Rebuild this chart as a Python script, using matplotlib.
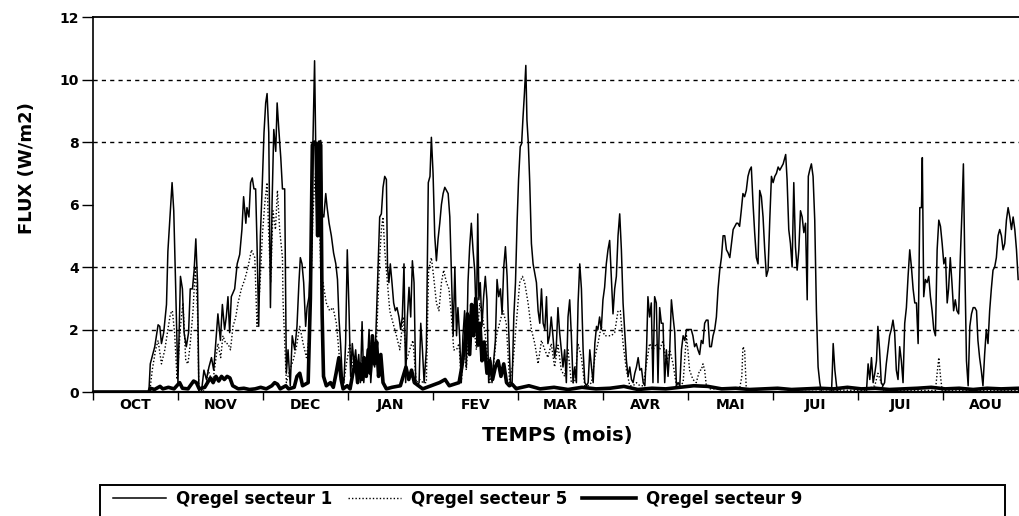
import numpy as np
import matplotlib
matplotlib.use("Agg")
import matplotlib.pyplot as plt
from matplotlib.patches import Rectangle

plt.rcParams['font.family'] = ['DejaVu Sans']

months = ['OCT', 'NOV', 'DEC', 'JAN', 'FEV', 'MAR', 'AVR', 'MAI', 'JUI', 'JUI', 'AOU']
month_len = 365 / 12
y_ticks = [0, 2, 4, 6, 8, 10, 12]
grid_levels = [2, 4, 8, 10]
labels = ['Qregel secteur 1', 'Qregel secteur 5', 'Qregel secteur 9']

# secteur 1 (thin solid) - day index from 1 Oct, flux W/m2
s1_days = [0, 20.0, 20.5, 22.1, 23.3, 23.9, 24.5, 25.3, 26.3, 26.8, 27.7, 28.3, 28.9, 29.6, 30.4,
           31.3, 32.0, 32.6, 33.4, 34.2, 34.8, 35.6, 36.2, 36.8, 37.4, 37.9, 38.8, 39.7, 40.6,
           41.5, 42.4, 43.2, 44.2, 44.7, 45.6, 46.3, 47.1, 47.7, 48.3, 48.9, 49.5, 50.7, 51.6,
           52.5, 53.3, 53.9, 54.7, 55.1, 55.8, 56.4, 57.0, 57.6, 58.2, 58.7, 59.3, 59.9, 60.6,
           61.2, 61.8, 62.3, 62.9, 63.5, 64.1, 64.7, 65.4, 65.9, 66.5, 67.2, 67.8,
           68.6, 69.2, 69.8, 70.6, 71.3, 72.2, 73.0, 73.7, 74.2, 74.8, 75.4, 76.1, 76.6, 77.3,
           78.1, 78.7, 79.3, 79.7, 80.3, 80.9, 81.5, 82.0, 82.6, 83.3, 83.8, 84.5, 85.3, 86.1,
           86.9, 87.5, 88.0, 88.6, 89.2, 89.8, 90.4, 91.0, 91.6, 92.2, 92.8, 93.4, 94.0, 94.5,
           95.1, 95.7, 96.3, 96.9, 97.5, 98.1, 98.8, 99.4, 100.0, 100.8, 101.4, 102.0, 102.6,
           103.2, 103.8, 104.4, 105.0, 105.4, 105.9, 106.4, 107.0, 107.6, 108.2, 108.8, 109.5,
           110.1, 110.7, 111.3, 111.9, 112.5, 113.1, 113.7, 114.3, 114.9, 115.5, 116.1, 116.7,
           117.3, 117.9, 118.5, 119.3, 120.0, 120.6, 121.1, 121.7, 122.3, 122.9, 123.5, 124.1,
           124.7, 125.3, 125.9, 126.5, 127.1, 127.7, 128.3, 128.9, 129.5, 130.1, 130.6, 131.2,
           131.8, 132.4, 133.0, 133.6, 134.2, 134.8, 135.4, 136.0,
           136.6, 137.2, 137.7, 138.1, 138.6, 139.2, 139.8, 140.4, 141.0, 141.6, 142.2, 142.8,
           143.4, 144.0, 144.6, 145.2, 145.8, 146.4, 147.0, 147.6, 148.2, 148.8, 149.4, 150.0,
           150.6, 151.2, 151.8, 152.3, 152.9, 153.4, 153.9, 154.4, 154.9, 155.3, 155.8, 156.3,
           156.9, 157.5, 158.1, 158.7, 159.3, 159.9, 160.5, 161.1, 161.7, 162.3, 162.8, 163.4,
           164.0, 164.6, 165.2, 165.8, 166.4, 167.0, 167.6, 168.2, 168.8, 169.4, 170.0, 170.6,
           171.2, 171.8, 172.4, 173.0, 173.6, 174.2, 174.8, 175.4, 176.0, 176.6, 177.2, 177.8,
           178.4, 179.0, 179.6, 180.2, 180.7, 181.3, 181.9, 182.5, 183.1, 183.7, 184.3, 184.9,
           185.5, 186.1, 186.7, 187.3, 187.9, 188.5, 189.1, 189.7, 190.3, 190.9, 191.5, 192.1,
           192.7, 193.3, 193.9, 194.5, 195.1, 195.7, 196.3, 196.9, 197.5, 198.1, 198.6, 199.2,
           199.8, 200.4, 201.0, 201.6, 202.2, 202.8, 203.4,
           204.0, 204.6, 205.2, 205.8, 206.4, 207.0, 207.6, 208.2, 208.8, 209.4, 210.0, 210.6,
           211.2, 211.8, 212.4, 213.5, 214.1, 214.7, 215.3, 215.9, 216.5, 217.1, 217.7, 218.3,
           218.9, 219.5, 220.1, 220.7, 221.3, 221.9, 222.5, 223.1, 223.7, 224.3, 224.9, 225.5,
           226.1, 226.7, 227.3, 227.9, 228.5, 229.1, 229.7, 230.3, 230.8, 231.4, 232.0, 232.6,
           233.2, 233.8, 234.4, 235.0, 235.6, 236.2, 236.8, 237.4, 238.0, 238.6, 239.2, 239.8,
           240.4, 241.0, 241.6, 242.2, 242.8, 243.4, 244.0, 244.6, 245.2, 245.8, 246.4, 247.0,
           247.6, 247.9, 248.4, 249.0, 249.6, 250.2, 250.8, 251.4, 252.0, 252.6, 253.2, 253.8,
           254.4, 255.0, 255.6, 256.0, 256.5, 257.1, 257.7, 258.3, 258.9, 259.5, 260.1, 260.7,
           264.3, 264.6, 264.9, 265.5, 266.1, 266.6,
           276.8, 277.4, 278.0, 278.6, 279.2, 279.8, 280.4, 280.9, 281.5, 282.1, 282.7, 283.3,
           283.9, 284.5, 285.1, 285.7, 286.3, 286.9, 287.5, 288.1, 288.7, 289.3, 289.9, 290.5,
           291.1, 291.7, 292.3, 292.9, 293.5, 294.1, 294.7, 295.3, 295.9, 296.5, 296.8, 297.3,
           297.9, 298.5, 299.1, 299.7, 300.3, 300.9, 301.5, 302.1, 302.7, 303.3, 303.9, 304.5,
           305.1, 305.7, 306.2, 306.8, 307.4, 308.0, 308.6, 309.2, 309.8, 310.4, 311.0, 311.5,
           312.0, 312.6, 313.2, 313.8, 314.4, 315.0, 315.6, 316.2, 316.7, 317.3, 317.9, 318.5,
           319.1, 319.7, 320.3, 320.9, 321.5, 322.1, 322.7, 323.3, 323.9, 324.5, 325.1, 325.7,
           326.3, 326.9, 327.5, 328.1, 328.7, 329.3, 329.9, 330.5, 331.1]
s1_vals = [0, 0, 0.9, 1.45, 2.15, 2.1, 1.55, 1.9, 2.8, 4.5, 5.8, 6.7, 5.8, 3.3, 0.3,
           3.7, 3.3, 1.9, 1.45, 1.9, 3.3, 3.3, 3.9, 4.9, 3.5, 0.0, 0.0, 0.7, 0.4,
           0.8, 1.1, 0.7, 1.9, 2.5, 1.65, 2.8, 2.0, 2.4, 3.05, 1.9, 3.05, 3.3, 4.1,
           4.4, 5.2, 6.25, 5.4, 5.9, 5.6, 6.7, 6.85, 6.5, 6.5, 4.75, 2.1, 5.0, 6.7,
           8.3, 9.25, 9.55, 8.3, 2.7, 6.1, 8.4, 7.7, 9.25, 8.4, 7.5, 6.5,
           6.5, 0.6, 1.35, 0.2, 1.8, 1.35, 2.1, 3.5, 4.3, 4.1, 3.5, 2.1, 2.7, 3.05,
           4.55, 7.95, 10.6, 7.95, 7.95, 6.8, 8.05, 5.7, 5.6, 6.35, 5.9, 5.4, 5.0, 4.45,
           4.1, 3.6, 2.4, 1.55, 0.5, 0.3, 1.55, 4.55, 2.7, 0.5, 1.55, 0.9, 1.35, 0.7,
           1.2, 0.3, 2.25, 0.3, 1.0, 0.7, 2.0, 0.3, 1.1, 0.8, 2.3, 4.0, 5.6,
           5.7, 6.55, 6.9, 6.8, 4.0, 3.5, 4.1, 3.5, 2.85, 2.6, 2.7, 2.4,
           2.0, 2.4, 4.1, 0.3, 2.4, 3.35, 2.4, 4.2, 3.5, 0.3, 0.2, 0.3,
           2.2, 1.35, 0.3, 1.35, 6.7, 6.9, 8.15, 7.0, 5.0, 4.2, 4.9, 5.4,
           6.0, 6.35, 6.55, 6.45, 6.35, 5.6, 3.7, 1.8, 4.0, 1.8, 2.7, 1.8,
           0.3, 1.8, 2.6, 0.8, 3.5, 4.65, 5.4, 4.55,
           3.9, 2.2, 5.7, 2.95, 3.5, 2.1, 3.05, 3.7, 2.95, 0.3, 1.1, 0.3,
           1.0, 1.65, 3.6, 3.05, 3.3, 2.5, 4.0, 4.65, 3.7, 1.9, 0.3, 0.3,
           2.4, 3.5, 5.5, 6.8, 7.85, 7.95, 8.8, 9.55, 10.45, 8.7, 7.95, 6.7,
           4.75, 4.1, 3.8, 3.5, 2.6, 2.2, 3.3, 2.2, 2.0, 3.05, 1.55, 1.8,
           2.4, 1.8, 1.1, 1.45, 2.7, 1.9, 1.35, 0.8, 1.35, 0.3, 2.4, 2.95,
           1.8, 0.3, 0.8, 0.3, 2.85, 4.1, 3.3, 1.35, 0.3, 0.2, 0.3, 1.35,
           0.8, 0.3, 1.55, 2.1, 2.0, 2.4, 2.0, 2.95, 3.35, 4.1, 4.55, 4.85,
           3.7, 2.5, 3.3, 3.7, 5.0, 5.7, 4.55, 2.85, 1.9, 1.0, 0.5, 0.8,
           0.4, 0.3, 0.6, 0.8, 1.1, 0.7, 0.75, 0.3, 0.2, 1.35, 3.05, 2.4,
           2.85, 0.3, 3.05, 2.85, 0.3, 2.7, 2.2,
           2.2, 0.3, 1.35, 0.5, 1.35, 2.95, 2.4, 1.9, 0.2, 0.3, 0.2, 1.35,
           1.8, 1.65, 2.0, 2.0, 2.0, 1.8, 1.45, 1.55, 1.35, 1.2, 1.65, 1.55,
           2.2, 2.3, 2.3, 1.45, 1.45, 1.8, 2.0, 2.4, 3.3, 3.9, 4.3, 5.0,
           5.0, 4.55, 4.45, 4.3, 4.75, 5.2, 5.3, 5.4, 5.4, 5.3, 5.8, 6.35,
           6.25, 6.45, 6.9, 7.1, 7.2, 6.05, 5.1, 4.3, 4.1, 6.45, 6.25, 5.6,
           4.55, 3.7, 3.9, 5.5, 6.9, 6.7, 6.9, 7.0, 7.2, 7.1, 7.2, 7.3,
           7.5, 7.6, 6.8, 5.2, 4.75, 4.0, 6.7, 4.65, 3.9, 4.55, 5.8, 5.6,
           5.1, 5.4, 2.95, 6.9, 7.1, 7.3, 6.9, 5.5, 2.6, 0.8, 0.3, 0.0,
           0.0, 0.7, 1.55, 0.7, 0.2, 0.0,
           0.0, 0.9, 0.4, 1.1, 0.3, 0.6, 1.0, 2.1, 1.35, 0.3, 0.2, 0.3,
           0.9, 1.35, 1.8, 2.0, 2.3, 1.9, 0.7, 0.4, 1.45, 1.0, 0.3, 2.2,
           2.7, 3.7, 4.55, 4.0, 3.3, 2.85, 2.85, 1.55, 5.9, 5.9, 7.5, 3.05,
           3.6, 3.5, 3.7, 3.05, 2.6, 2.0, 1.8, 4.55, 5.5, 5.3, 4.75, 4.1,
           4.3, 2.85, 3.3, 4.3, 3.5, 2.6, 2.95, 2.6, 2.5, 4.3, 5.8, 7.3,
           4.1, 1.0, 0.2, 2.1, 2.5, 2.7, 2.7, 2.6, 1.65, 1.1, 0.7, 0.2,
           1.2, 2.0, 1.55, 2.6, 3.3, 3.9, 4.0, 4.3, 5.0, 5.2, 5.0, 4.55,
           4.75, 5.5, 5.9, 5.6, 5.2, 5.6, 5.2, 4.55, 3.6]

# secteur 5 (dotted)
s5_days = [0, 20.3, 21.2, 22.4, 23.3, 24.5, 25.7, 26.8, 27.7, 28.4, 29.2, 30.1, 31.3, 32.2,
           33.2, 34.0, 34.8, 35.8, 36.6, 37.4, 37.9, 39.4, 40.6, 41.2, 42.0, 43.0, 43.9, 44.7,
           45.7, 46.5, 47.5, 48.3, 49.2, 50.1, 51.1, 51.9, 53.1, 54.3, 55.5, 56.7, 57.9, 58.7,
           59.7, 60.6, 61.5, 62.3, 62.9, 63.6, 64.4, 65.3, 66.0, 66.8, 67.8,
           68.0, 69.2, 70.4, 71.6, 72.8, 74.0, 75.2, 76.4, 77.5, 78.7, 79.3, 79.9, 80.5, 81.1,
           81.7, 82.3, 83.5, 84.7, 85.9, 87.1, 88.3, 89.5, 90.7, 91.9, 93.1, 94.3, 95.4, 96.6,
           97.8, 99.0, 100.2, 101.4, 102.6, 103.2, 103.8, 104.4, 105.2, 106.2, 107.4, 108.6,
           109.8, 111.0, 112.2, 113.3, 114.5, 115.7, 116.9, 118.1, 119.3, 120.1, 121.1, 121.9,
           122.9, 123.8, 124.7, 125.5, 126.5, 127.4, 128.3, 129.1, 130.1, 131.0, 131.8, 132.7,
           133.6, 134.6, 135.4, 136.0,
           137.2, 138.4, 139.6, 140.8, 142.0, 143.2, 144.4, 145.5, 146.7, 147.9, 149.1, 150.3,
           151.5, 152.7, 153.7, 154.5, 155.7, 156.9, 158.1, 159.3, 160.5, 161.7, 162.8, 164.0,
           165.2, 166.4, 167.6, 168.8, 170.0, 171.2, 172.4, 173.6, 174.8, 176.0, 177.2, 178.4,
           179.6, 180.7, 181.9, 183.1, 184.3, 185.5, 186.7, 187.9, 188.7, 189.7, 190.9, 192.1,
           193.3, 194.5, 195.7, 196.9, 198.1, 199.2, 200.4, 201.6, 202.8, 204.0,
           205.2, 206.4, 207.6, 208.8, 210.0, 211.2, 211.8, 212.4, 212.9, 213.5, 214.7, 215.9,
           217.1, 217.7, 218.3, 218.9, 219.5, 220.7, 231.4, 232.2, 232.6, 233.2, 233.8,
           276.0, 279.8, 280.9, 282.1, 283.0, 301.5, 302.1, 302.7, 303.3, 303.9, 331.4]
s5_vals = [0, 0, 0.7, 1.35, 1.65, 0.9, 1.35, 2.0, 2.5, 2.6, 1.9, 0.4, 2.1, 2.85,
           1.0, 0.9, 1.55, 2.6, 4.0, 2.6, 0, 0, 0.3, 0.7, 0.5, 0.4, 1.0, 1.55,
           1.1, 1.8, 1.55, 1.55, 1.35, 2.1, 2.4, 2.85, 3.3, 3.6, 4.0, 4.55, 4.3, 2.1,
           3.3, 5.0, 6.05, 6.7, 5.0, 3.5, 5.8, 5.2, 6.45, 5.2, 4.3,
           2.95, 0.3, 0.7, 1.0, 1.45, 2.1, 1.55, 1.1, 1.9, 5.6, 6.7, 7.2, 5.1, 5.2,
           3.3, 3.5, 2.85, 2.6, 2.7, 2.2, 1.0, 0.15, 0.9, 1.55, 0.7, 0.8, 0.5, 1.1,
           0.7, 1.65, 0.9, 1.55, 4.3, 5.2, 5.6, 4.55, 3.7, 2.6, 2.2, 1.8,
           1.35, 2.4, 1.0, 1.35, 1.65, 0.3, 0.4, 0.3, 0.3, 3.9, 4.3, 3.7,
           2.85, 2.6, 3.5, 3.9, 3.5, 3.3, 2.4, 1.35, 1.35, 1.55, 0.3, 1.35,
           0.7, 2.2, 2.85, 2.4,
           1.35, 2.85, 2.3, 1.55, 0.3, 0.7, 1.8, 2.2, 2.6, 2.2, 0.3, 0.9,
           2.2, 3.5, 3.7, 3.5, 2.85, 2.0, 1.55, 0.9, 1.65, 1.35, 1.1, 1.55,
           0.8, 1.5, 0.7, 0.5, 1.35, 0.3, 0.3, 1.55, 1.1, 0.2, 0.2, 0.3,
           1.1, 1.55, 2.1, 1.8, 1.8, 1.8, 1.9, 2.6, 2.6, 1.55, 0.7, 0.2,
           0.2, 0.3, 0.2, 0.2, 0.9, 1.55, 1.35, 1.55, 1.35, 1.65,
           0.9, 1.35, 0.9, 0.2, 0.2, 0.3, 1.1, 1.8, 1.35, 0.7, 0.4, 0.3,
           0.7, 0.7, 0.9, 0.7, 0.2, 0.1, 0.1, 0.5, 1.45, 1.35, 0.1,
           0.05, 0.2, 0.6, 0.3, 0.05, 0.05, 0.6, 1.1, 0.5, 0.05, 0.05]

# secteur 9 (thick solid)
s9_days = [0, 20.0, 20.5, 22, 24, 25, 27, 29, 31, 32, 34, 36, 37, 38, 40, 42, 43, 44, 45, 46,
           47, 48, 49, 50, 52, 54, 56, 58, 60, 62, 64, 65, 66, 67, 69, 70, 72, 73, 74, 75, 77,
           77.8, 78.5, 79.2, 79.8, 80.4, 81.0, 81.5, 82.0, 82.5, 83.5, 85, 86, 87, 88, 88.8,
           89.5, 91, 92, 93, 94, 94.7, 95.5, 96.2, 97, 97.8, 98.5, 99.2, 100, 100.7, 101.5,
           102.2, 103, 103.8, 105, 107, 110, 111, 112, 113, 114, 115, 116.5, 118, 119.5, 124,
           126, 127.5, 131, 132, 133, 134, 134.8, 135.5, 136.2, 137, 137.8, 138.5, 139.2, 140,
           141, 142, 143, 144, 145, 146, 147, 148, 149, 150, 151.5, 152, 156, 160, 165, 170,
           175, 180, 185, 190, 195, 200, 205, 210, 215, 220, 225, 230, 235, 240, 245, 250,
           255, 260, 265, 270, 275, 280, 285, 290, 295, 300, 305, 310, 315, 320, 325, 331.4]
s9_vals = [0, 0, 0.12, 0.08, 0.18, 0.1, 0.15, 0.1, 0.3, 0.12, 0.1, 0.35, 0.3, 0.1, 0.15, 0.45,
           0.3, 0.5, 0.35, 0.5, 0.4, 0.5, 0.45, 0.2, 0.1, 0.12, 0.08, 0.1, 0.15, 0.1, 0.2,
           0.3, 0.25, 0.1, 0.2, 0.1, 0.15, 0.5, 0.6, 0.2, 0.3,
           3.0, 7.9, 8.0, 7.95, 5.0, 8.0, 7.9, 2.5, 0.5, 0.2, 0.3, 0.15, 0.6, 1.1, 0.4,
           0.1, 0.2, 0.1, 0.6, 1.0, 0.3, 0.9, 0.4, 1.1, 0.5, 1.35, 0.6, 1.8, 0.9, 1.6,
           0.5, 1.2, 0.3, 0.1, 0.15, 0.2, 0.5, 0.8, 0.4, 0.7, 0.3, 0.2, 0.1, 0.15, 0.3,
           0.4, 0.2, 0.3, 0.8, 1.5, 2.5, 1.2, 2.8, 1.8, 3.0, 1.5, 2.2, 1.0, 1.6,
           0.6, 1.0, 0.4, 0.8, 1.0, 0.5, 0.9, 0.3, 0.2, 0.25, 0.1, 0.12, 0.2, 0.1, 0.15, 0.08,
           0.15, 0.1, 0.12, 0.18, 0.08, 0.12, 0.1, 0.15, 0.2, 0.18, 0.1, 0.12, 0.08, 0.1, 0.12, 0.08,
           0.1, 0.12, 0.1, 0.15, 0.1, 0.12, 0.08, 0.1, 0.12, 0.15, 0.1, 0.12, 0.08, 0.12, 0.1, 0.12]


def main():
    W, H = 1019, 516
    fig = plt.figure(figsize=(W / 100, H / 100), dpi=100)
    ax = fig.add_axes([93 / W, 1 - 392 / H, (W - 93) / W, (392 - 17) / H])

    for y in grid_levels:
        ax.axhline(y, color='black', lw=1.0, linestyle=(0, (3, 3)), zorder=1)

    l9, = ax.plot(s9_days, s9_vals, color='black', lw=2.6, zorder=2)
    l5, = ax.plot(s5_days, s5_vals, color='black', lw=1.0, linestyle=(0, (1, 1.5)), zorder=3)
    l1, = ax.plot(s1_days, s1_vals, color='black', lw=1.1, zorder=4)

    ax.set_xlim(0, 331.4)
    ax.set_ylim(0, 12)

    ax.set_xticks([k * month_len for k in range(len(months))])
    ax.set_xticklabels([])
    ax.set_xticks([(k + 0.5) * month_len for k in range(len(months))], minor=True)
    ax.set_xticklabels(months, minor=True, fontsize=10, fontweight='bold')
    ax.tick_params(axis='x', which='major', direction='out', length=6, width=1.0)
    ax.tick_params(axis='x', which='minor', length=0, pad=4)

    ax.set_yticks(y_ticks)
    ax.set_yticklabels([str(v) for v in y_ticks], fontsize=10, fontweight='bold')
    ax.tick_params(axis='y', direction='out', length=8, width=1.0, pad=2)

    ax.spines['right'].set_visible(False)
    ax.spines['left'].set_linewidth(1.2)
    ax.spines['top'].set_linewidth(1.3)
    ax.spines['bottom'].set_linewidth(1.6)

    fig.text(27 / W, 1 - 168 / H, 'FLUX (W/m2)', rotation=90, ha='center', va='center',
             fontsize=13, fontweight='bold')
    fig.text(557 / W, 1 - 436 / H, 'TEMPS (mois)', ha='center', va='center',
             fontsize=14, fontweight='bold')

    fig.patches.append(Rectangle((100 / W, -0.05), (1005 - 100) / W, 0.05 + 1 - 485 / H,
                                 transform=fig.transFigure, fill=False, lw=1.4,
                                 edgecolor='black'))
    fig.legend([l1, l5, l9], labels, loc='center left',
               bbox_to_anchor=(98 / W, 1 - 499 / H), ncol=3, frameon=False,
               handlelength=3.2, handletextpad=0.6, columnspacing=0.9,
               prop={'weight': 'bold', 'size': 12})

    fig.savefig('out.png', dpi=100)


if __name__ == '__main__':
    main()
